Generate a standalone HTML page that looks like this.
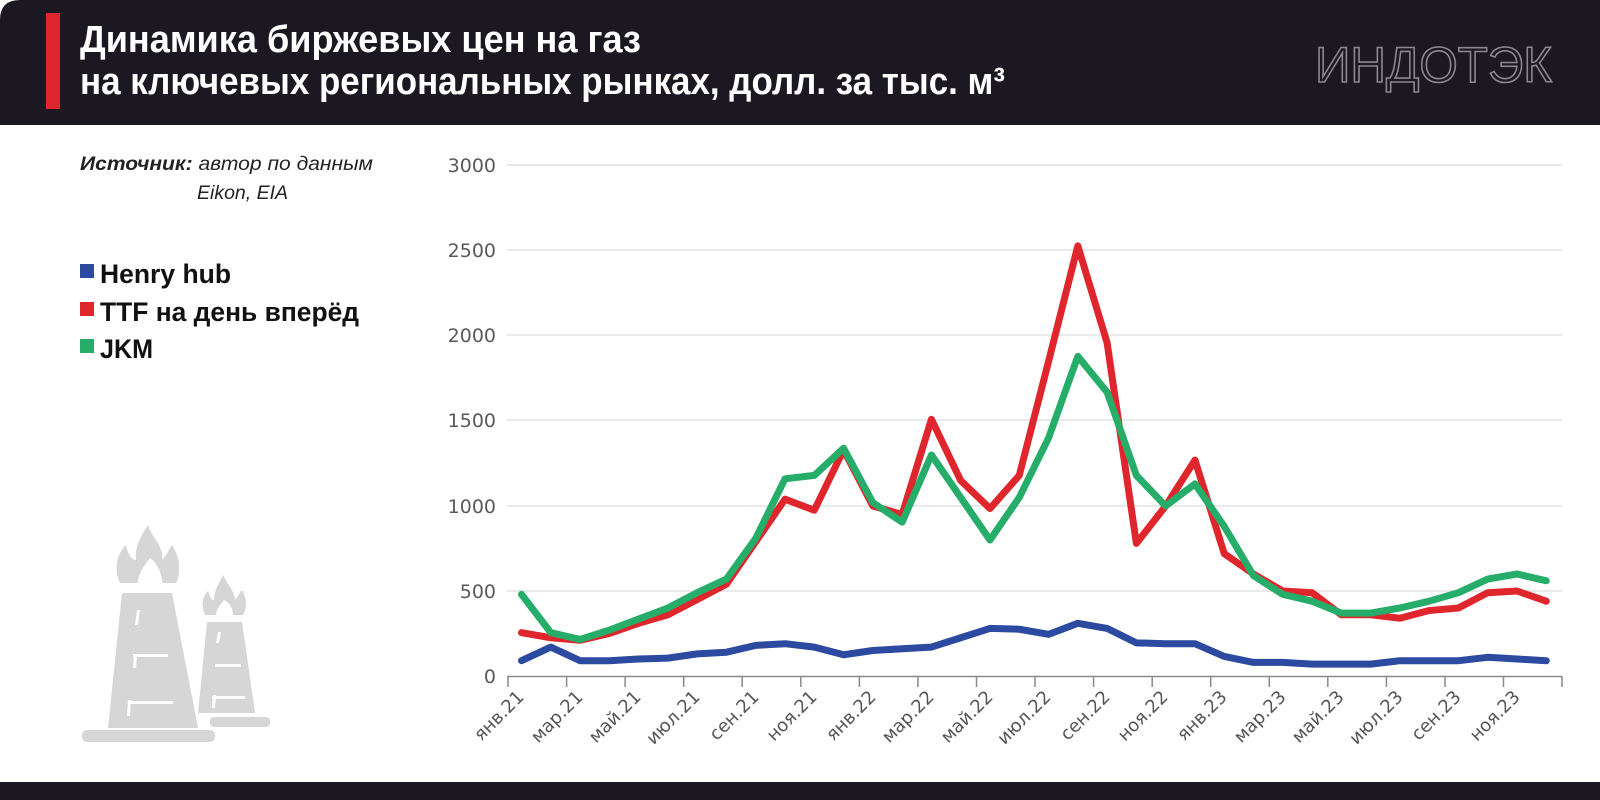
<!DOCTYPE html>
<html><head><meta charset="utf-8"><style>
html,body{margin:0;padding:0;background:#fff;}
body{width:1600px;height:800px;overflow:hidden;position:relative;font-family:"Liberation Sans","DejaVu Sans",sans-serif;}
</style></head><body>
<svg width="1600" height="800" viewBox="0 0 1600 800" xmlns="http://www.w3.org/2000/svg" style="position:absolute;left:0;top:0">
<path d="M0,125 V20 Q0,0 20,0 H1600 V125 Z" fill="#1c1822"/>
<rect x="46" y="13" width="14" height="96" fill="#e0262d"/>
<g font-family="'Liberation Sans',sans-serif" font-weight="bold" font-size="38" fill="#fff">
<text x="80" y="52" textLength="561" lengthAdjust="spacingAndGlyphs">Динамика биржевых цен на газ</text>
<text x="80" y="94" textLength="925" lengthAdjust="spacingAndGlyphs">на ключевых региональных рынках, долл. за тыс. м³</text>
</g>
<text x="1315" y="82" font-family="'Liberation Sans',sans-serif" font-size="50" fill="none" stroke="#8a8a8e" stroke-width="1.6" textLength="237" lengthAdjust="spacingAndGlyphs">ИНДОТЭК</text>
<rect x="0" y="782" width="1600" height="18" fill="#1c1822"/>
<g font-family="'Liberation Sans',sans-serif" font-style="italic" font-size="19" fill="#222">
<text x="80" y="170" textLength="293" lengthAdjust="spacingAndGlyphs"><tspan font-weight="bold">Источник:</tspan> автор по данным</text>
<text x="197" y="199" textLength="91" lengthAdjust="spacingAndGlyphs">Eikon, EIA</text>
</g>
<g font-family="'Liberation Sans',sans-serif" font-weight="bold" font-size="27" fill="#111">
<rect x="80" y="264" width="14" height="14" fill="#2c4aa0"/><text x="100" y="283" textLength="131" lengthAdjust="spacingAndGlyphs">Henry hub</text>
<rect x="80" y="302" width="14" height="14" fill="#e0262d"/><text x="100" y="321" textLength="259" lengthAdjust="spacingAndGlyphs">TTF на день вперёд</text>
<rect x="80" y="339" width="14" height="14" fill="#27ad6a"/><text x="100" y="358" textLength="53" lengthAdjust="spacingAndGlyphs">JKM</text>
</g>
<g fill="#d6d6d6">
<path d="M122,593 H172 L198,728 H108 Z"/>
<rect x="82" y="730" width="133" height="12" rx="5"/>
<path d="M120,583 C112,565 120,550 126,545 C128,555 132,560 136,560 C134,545 145,530 148,525 C152,538 165,548 162,560 C166,556 170,548 172,545 C182,560 180,575 176,583 H162 C162,572 156,562 150,558 C144,566 138,574 138,583 Z"/>
<path d="M207,622 H242 L255,713 H198 Z"/>
<rect x="210" y="717" width="60" height="10" rx="4"/>
<path d="M205,615 C200,603 204,595 208,591 C210,598 212,600 214,600 C214,590 220,582 223,575 C228,585 235,592 235,600 C238,596 240,592 242,590 C248,600 246,610 243,615 H233 C233,608 229,602 224,600 C220,605 216,610 216,615 Z"/>
</g>
<g fill="#fff">
<path d="M137,610 H140 L138,625 H135 Z"/>
<rect x="133" y="654" width="35" height="3"/>
<rect x="129" y="701" width="44" height="3"/>
<path d="M128,700 L131,700 L130,716 L127,716 Z"/>
<path d="M134,655 L137,655 L136,668 L133,668 Z"/>
<path d="M218,632 H221 L219,643 H216 Z"/>
<rect x="215" y="664" width="26" height="3"/>
<rect x="212" y="696" width="33" height="3"/>
<path d="M213,695 L216,695 L215,708 L212,708 Z"/>
</g>
<g stroke="#e2e2e2" stroke-width="1.5">
<line x1="507" x2="1562" y1="165" y2="165"/>
<line x1="507" x2="1562" y1="250" y2="250"/>
<line x1="507" x2="1562" y1="335" y2="335"/>
<line x1="507" x2="1562" y1="420" y2="420"/>
<line x1="507" x2="1562" y1="506" y2="506"/>
<line x1="507" x2="1562" y1="591" y2="591"/>
</g>
<g font-family="'DejaVu Sans','Liberation Sans',sans-serif" font-size="19" fill="#5a5a5a" text-anchor="end">
<text x="496" y="172">3000</text><text x="496" y="257">2500</text><text x="496" y="342">2000</text>
<text x="496" y="427">1500</text><text x="496" y="513">1000</text><text x="496" y="598">500</text><text x="496" y="683">0</text>
</g>
<g stroke="#8a8a8a" stroke-width="1.5">
<line x1="507" x2="1562" y1="676.5" y2="676.5"/>
<path d="M508,676V687 M566.6,676V687 M625.1,676V687 M683.7,676V687 M742.2,676V687 M800.8,676V687 M859.4,676V687 M917.9,676V687 M976.5,676V687 M1035,676V687 M1093.6,676V687 M1152.2,676V687 M1210.7,676V687 M1269.3,676V687 M1327.8,676V687 M1386.4,676V687 M1445,676V687 M1503.5,676V687 M1562,676V687"/>
</g>
<g transform="translate(521.5,676) scale(29.28,-0.17)" fill="none" stroke-linejoin="round" stroke-linecap="round">
<polyline vector-effect="non-scaling-stroke" stroke="#2c4aa0" stroke-width="7" points="0,90 1,170 2,90 3,90 4,100 5,105 6,130 7,140 8,180 9,190 10,170 11,125 12,150 13,160 14,170 15,225 16,280 17,275 18,245 19,310 20,280 21,195 22,190 23,190 24,115 25,80 26,80 27,70 28,70 29,70 30,90 31,90 32,90 33,110 34,100 35,90"/>
<polyline vector-effect="non-scaling-stroke" stroke="#e0262d" stroke-width="7" points="0,255 1,225 2,210 3,250 4,310 5,360 6,450 7,540 8,790 9,1040 10,975 11,1330 12,1000 13,950 14,1510 15,1150 16,985 17,1180 18,1850 19,2530 20,1960 21,780 22,1000 23,1270 24,720 25,600 26,500 27,490 28,360 29,360 30,340 31,385 32,400 33,490 34,500 35,440"/>
<polyline vector-effect="non-scaling-stroke" stroke="#27ad6a" stroke-width="7" points="0,480 1,255 2,215 3,270 4,335 5,400 6,490 7,570 8,810 9,1160 10,1180 11,1340 12,1020 13,905 14,1300 15,1050 16,800 17,1050 18,1400 19,1880 20,1670 21,1180 22,1000 23,1130 24,880 25,590 26,480 27,440 28,370 29,370 30,400 31,440 32,490 33,570 34,600 35,560"/>
</g>
<g font-family="'DejaVu Sans','Liberation Sans',sans-serif" font-size="18" fill="#555" text-anchor="end">
<text transform="translate(525,698) rotate(-45)">янв.21</text>
<text transform="translate(584,698) rotate(-45)">мар.21</text>
<text transform="translate(642,698) rotate(-45)">май.21</text>
<text transform="translate(701,698) rotate(-45)">июл.21</text>
<text transform="translate(760,698) rotate(-45)">сен.21</text>
<text transform="translate(818,698) rotate(-45)">ноя.21</text>
<text transform="translate(877,698) rotate(-45)">янв.22</text>
<text transform="translate(935,698) rotate(-45)">мар.22</text>
<text transform="translate(994,698) rotate(-45)">май.22</text>
<text transform="translate(1052,698) rotate(-45)">июл.22</text>
<text transform="translate(1111,698) rotate(-45)">сен.22</text>
<text transform="translate(1169,698) rotate(-45)">ноя.22</text>
<text transform="translate(1228,698) rotate(-45)">янв.23</text>
<text transform="translate(1287,698) rotate(-45)">мар.23</text>
<text transform="translate(1345,698) rotate(-45)">май.23</text>
<text transform="translate(1404,698) rotate(-45)">июл.23</text>
<text transform="translate(1462,698) rotate(-45)">сен.23</text>
<text transform="translate(1521,698) rotate(-45)">ноя.23</text>
</g>
</svg>
</body></html>
